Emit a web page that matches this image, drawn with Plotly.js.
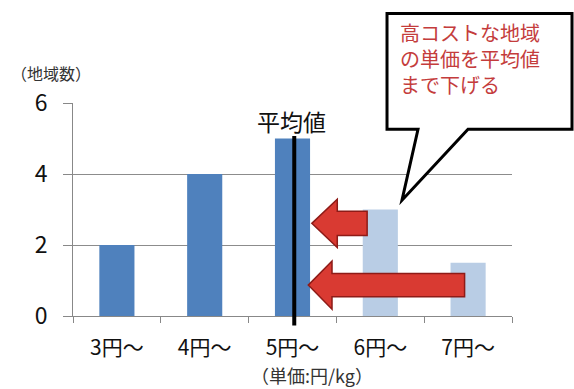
<!DOCTYPE html>
<html>
<head>
<meta charset="utf-8">
<script src="https://cdn.plot.ly/plotly-3.0.1.min.js"></script>
<style>html,body{margin:0;padding:0;background:#fff;}#chart{width:574px;height:389px;}</style>
</head>
<body>
<div id="chart"></div>
<script>
// Data
const categories = ['3円～', '4円～', '5円～', '6円～', '7円～'];
const regionCounts = [2, 4, 5, 3, 1.5];
const barColors = ['#4F81BD', '#4F81BD', '#4F81BD', '#B9CDE5', '#B9CDE5'];
const yTickVals = [0, 2, 4, 6];
const averageIndex = 2.02;     // position of average line (category index)
const averageTop = 5.07;       // top of average line (value units)
const calloutLines = ['高コストな地域', 'の単価を平均値', 'まで下げる'];
// arrows: [tipX, headBaseX, tailX, centerY, headHalf, shaftHalf] in data units
const arrows = [
  [2.22, 2.51, 2.85, 2.61, 0.68, 0.34],
  [2.18, 2.45, 3.96, 0.87, 0.68, 0.33]
];

const FONT = '"Noto Sans CJK JP", "Noto Sans", sans-serif';

const trace = {
  type: 'bar',
  x: categories,
  y: regionCounts,
  marker: {color: barColors, line: {width: 0}},
  hoverinfo: 'skip'
};

const shapes = [];
arrows.forEach(a => {
  const [tx, hx, ex, cy, hh, sh] = a;
  shapes.push({
    type: 'path', xref: 'x', yref: 'y',
    path: `M ${tx},${cy} L ${hx},${cy + hh} L ${hx},${cy + sh} L ${ex},${cy + sh} L ${ex},${cy - sh} L ${hx},${cy - sh} L ${hx},${cy - hh} Z`,
    fillcolor: '#D93A32',
    line: {color: '#8E1B17', width: 1.5},
    layer: 'above'
  });
});
// average line (extends slightly below axis)
shapes.push({
  type: 'line', xref: 'x', yref: 'paper',
  x0: averageIndex, x1: averageIndex,
  y0: -0.045, y1: averageTop / 6,
  line: {color: '#000', width: 4},
  layer: 'above'
});
// callout box
shapes.push({
  type: 'path', xref: 'paper', yref: 'paper',
  path: 'M 0.7153,1.4205 L 1.1367,1.4205 L 1.1367,0.8767 L 0.8998,0.8767 L 0.7494,0.5438 L 0.7859,0.8767 L 0.7153,0.8767 Z',
  fillcolor: '#FFFFFF',
  line: {color: '#000', width: 3},
  layer: 'above'
});

const annotations = [
  {xref: 'paper', yref: 'paper', x: -0.05, y: 1.14, xanchor: 'center', yanchor: 'middle',
   text: '（地域数）', showarrow: false, font: {size: 16, color: '#333', family: FONT}},
  {xref: 'paper', yref: 'paper', x: 0.545, y: -0.275, xanchor: 'center', yanchor: 'middle',
   borderpad: 0,
   text: '（単価:円/kg）', showarrow: false, font: {size: 18, color: '#333', family: FONT}},
  {xref: 'x', yref: 'y', x: averageIndex - 0.03, y: 5.5, xanchor: 'center', yanchor: 'middle',
   text: '平均値', showarrow: false, font: {size: 23, color: '#111', family: FONT}},
  {xref: 'paper', yref: 'paper', x: 0.7426, y: 1.2096, xanchor: 'left', yanchor: 'middle', align: 'left',
   borderpad: 0,
   text: calloutLines.join('<br>'), showarrow: false, font: {size: 20, color: '#C43C3C', family: FONT}}
];

const layout = {
  width: 574, height: 389,
  margin: {l: 73, r: 62, t: 103, b: 73, pad: 0},
  paper_bgcolor: '#fff', plot_bgcolor: '#fff',
  showlegend: false,
  bargap: 0.6,
  font: {family: FONT, color: '#111'},
  xaxis: {
    type: 'category',
    tickson: 'boundaries',
    ticks: 'outside', ticklen: 6, tickcolor: '#888', tickwidth: 1,
    showline: true, linecolor: '#888', linewidth: 1,
    showgrid: false,
    tickfont: {size: 21, color: '#111', family: FONT},
    ticklabelstandoff: 13
  },
  yaxis: {
    range: [0, 6],
    tickvals: yTickVals,
    ticks: 'outside', ticklen: 9, tickcolor: '#888', tickwidth: 1,
    showline: true, linecolor: '#888', linewidth: 1,
    showgrid: true, gridcolor: '#8c8c8c', gridwidth: 1,
    zeroline: false,
    tickfont: {size: 23, color: '#111', family: FONT},
    ticklabelstandoff: 11
  },
  shapes: shapes,
  annotations: annotations
};

Plotly.newPlot('chart', [trace], layout, {displayModeBar: false, staticPlot: true});
</script>
</body>
</html>
